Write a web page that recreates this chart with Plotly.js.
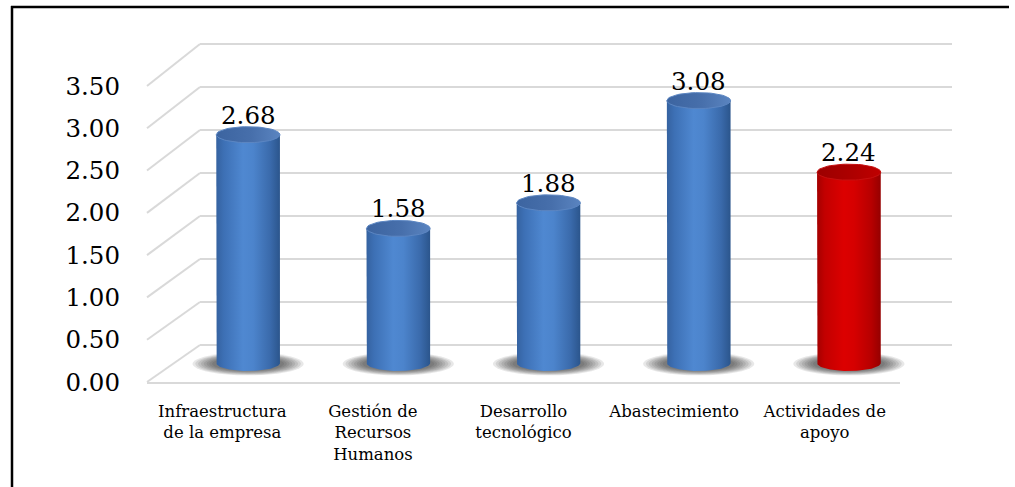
<!DOCTYPE html>
<html>
<head>
<meta charset="utf-8">
<script src="https://cdn.plot.ly/plotly-3.0.1.min.js"></script>
<style>
  html, body { margin: 0; padding: 0; background: #ffffff; }
  #chart { width: 1015px; height: 487px; }
</style>
</head>
<body>
<div id="chart"></div>
<script>
// ---- data ----
const categories = [
  'Infraestructura<br>de la empresa',
  'Gestión de<br>Recursos<br>Humanos',
  'Desarrollo<br>tecnológico',
  'Abastecimiento',
  'Actividades de<br>apoyo'
];
const values = [2.68, 1.58, 1.88, 3.08, 2.24];
const seriesTone = ['blue', 'blue', 'blue', 'blue', 'red'];
const yTickVals = [0, 0.5, 1, 1.5, 2, 2.5, 3, 3.5];
const yTickText = ['0.00', '0.50', '1.00', '1.50', '2.00', '2.50', '3.00', '3.50'];

// ---- styling ----
const W = 1015, H = 487;
const FONT = 'DejaVu Serif';
const GRID = '#d9d9d9';

const bodyScale = {
  blue: [[0, '#3562a0'], [0.12, '#3d70b5'], [0.42, '#4f88d1'], [0.58, '#4c84cc'], [0.85, '#3a6aab'], [1, '#2b558c']],
  red:  [[0, '#a40000'], [0.12, '#c20000'], [0.42, '#dc0000'], [0.58, '#d60000'], [0.85, '#b70000'], [1, '#950000']]
};
const capScale = {
  blue: [[0, '#3c64a0'], [0.55, '#476fab'], [1, '#5a84c0']],
  red:  [[0, '#9c0000'], [0.55, '#ad0000'], [1, '#bf0000']]
};
const capEdge = { blue: '#5c86c2', red: '#c61010' };

// pixel geometry of the three planes (back wall, front edge, bar plane)
const back  = { x0: 200, x1: 952, zero: 345, ppu: 301 / 3.5, range: [-0.02, 3.52] };
const front = { x0: 147, x1: 900, zero: 382, ppu: 296 / 3.5, range: [0, 3.5] };
const mid   = { x0: 173, x1: 924, zero: 363, ppu: 85.2, range: [-0.35, 3.6] };

function xDomain(p) { return [p.x0 / W, p.x1 / W]; }
function yDomain(p) {
  const bottomPx = p.zero - p.range[0] * p.ppu;
  const topPx = p.zero - p.range[1] * p.ppu;
  return [1 - bottomPx / H, 1 - topPx / H];
}

// cylinder half sizes in data units of the bar plane
const rx = 0.212;
const ry = 8 / mid.ppu;

function cylinderBody(i, v) {
  const xs = [], ys = [];
  xs.push(i - rx); ys.push(v);
  xs.push(i - rx); ys.push(0);
  const n = 40;
  for (let k = 1; k < n; k++) {
    const a = Math.PI - (Math.PI * k) / n;
    xs.push(i + rx * Math.cos(a));
    ys.push(-ry * Math.sin(a));
  }
  xs.push(i + rx); ys.push(0);
  xs.push(i + rx); ys.push(v);
  xs.push(i - rx); ys.push(v);
  return { xs, ys };
}

function ellipse(cx, cy, ax, ay) {
  const xs = [], ys = [];
  const n = 60;
  for (let k = 0; k <= n; k++) {
    const a = (2 * Math.PI * k) / n;
    xs.push(cx + ax * Math.cos(a));
    ys.push(cy + ay * Math.sin(a));
  }
  return { xs, ys };
}

const traces = [];

// back wall grid holder
traces.push({ type: 'scatter', x: [0], y: [0], xaxis: 'x', yaxis: 'y',
  mode: 'markers', marker: { opacity: 0 }, hoverinfo: 'skip', showlegend: false });

// front plane: value scale and categories
traces.push({ type: 'scatter', x: categories, y: values.map(() => null), xaxis: 'x2', yaxis: 'y2',
  mode: 'markers', marker: { opacity: 0 }, hoverinfo: 'skip', showlegend: false });

// cylinders: shaded body plus elliptical top
values.forEach((v, i) => {
  const tone = seriesTone[i];
  const body = cylinderBody(i, v);
  traces.push({
    type: 'scatter', x: body.xs, y: body.ys, xaxis: 'x3', yaxis: 'y3',
    mode: 'lines', fill: 'toself', line: { width: 0, color: 'rgba(0,0,0,0)' },
    fillgradient: { type: 'horizontal', colorscale: bodyScale[tone] },
    hoverinfo: 'skip', showlegend: false
  });
  const cap = ellipse(i, v, rx, ry);
  traces.push({
    type: 'scatter', x: cap.xs, y: cap.ys, xaxis: 'x3', yaxis: 'y3',
    mode: 'lines', fill: 'toself', line: { width: 1, color: capEdge[tone] },
    fillgradient: { type: 'horizontal', colorscale: capScale[tone] },
    hoverinfo: 'skip', showlegend: false
  });
});

const shapes = [];

// floor shadows under each cylinder (stacked soft ellipses)
values.forEach((v, i) => {
  const steps = 8;
  for (let k = 0; k < steps; k++) {
    const f = k / (steps - 1);
    const hx = 0.37 - f * 0.13;
    const hy = (11.5 - f * 4.5) / mid.ppu;
    shapes.push({
      type: 'circle', xref: 'x3', yref: 'y3', layer: 'below',
      x0: i - hx, x1: i + hx, y0: -0.01 - hy, y1: -0.01 + hy,
      fillcolor: 'rgba(30,30,30,0.10)', line: { width: 0 }
    });
  }
});

// side wall: connectors from the front edge to the back wall at each tick
yTickVals.forEach(t => {
  const yf = front.zero - t * front.ppu;
  const yb = back.zero - t * back.ppu;
  shapes.push({
    type: 'line', xref: 'paper', yref: 'paper', layer: 'below',
    x0: front.x0 / W, y0: 1 - yf / H, x1: back.x0 / W, y1: 1 - yb / H,
    line: { color: GRID, width: 2 }
  });
});

// frame
shapes.push({ type: 'line', xref: 'paper', yref: 'paper', x0: 12 / W, x1: 12 / W, y0: 0, y1: 1 - 6 / H,
  line: { color: '#000000', width: 2.5 } });
shapes.push({ type: 'line', xref: 'paper', yref: 'paper', x0: 11 / W, x1: 1009 / W, y0: 1 - 7 / H, y1: 1 - 7 / H,
  line: { color: '#000000', width: 2.5 } });

// value labels above each cylinder
const annotations = values.map((v, i) => ({
  xref: 'x3', yref: 'y3', x: i, y: v, text: v.toFixed(2),
  showarrow: false, yanchor: 'bottom', yshift: 3,
  font: { family: FONT, size: 24.5, color: '#000000' }
}));

const hidden = { showgrid: false, zeroline: false, showticklabels: false, showline: false, ticks: '', fixedrange: true };

const layout = {
  width: W, height: H,
  margin: { l: 0, r: 0, t: 0, b: 0 },
  paper_bgcolor: '#ffffff',
  plot_bgcolor: 'rgba(0,0,0,0)',
  showlegend: false,
  font: { family: FONT },
  xaxis: Object.assign({}, hidden, { domain: xDomain(back), range: [0, 1], anchor: 'y' }),
  yaxis: Object.assign({}, hidden, {
    domain: yDomain(back), range: back.range, anchor: 'x',
    showgrid: true, gridcolor: GRID, gridwidth: 2, tickvals: yTickVals
  }),
  xaxis2: Object.assign({}, hidden, {
    domain: xDomain(front), anchor: 'y2', type: 'category', range: [-0.5, 4.5],
    showticklabels: true, showline: true, linecolor: GRID, linewidth: 2, tickangle: 0,
    tickfont: { family: FONT, size: 16.5, color: '#000000' }, ticklabelstandoff: 13
  }),
  yaxis2: Object.assign({}, hidden, {
    domain: yDomain(front), anchor: 'x2', range: front.range,
    showticklabels: true, tickvals: yTickVals, ticktext: yTickText,
    tickfont: { family: FONT, size: 24.5, color: '#000000' }, ticklabelstandoff: 26
  }),
  xaxis3: Object.assign({}, hidden, { domain: xDomain(mid), anchor: 'y3', range: [-0.5, 4.5] }),
  yaxis3: Object.assign({}, hidden, { domain: yDomain(mid), anchor: 'x3', range: mid.range }),
  shapes: shapes,
  annotations: annotations
};

Plotly.newPlot('chart', traces, layout, { staticPlot: true, displayModeBar: false });
</script>
</body>
</html>
